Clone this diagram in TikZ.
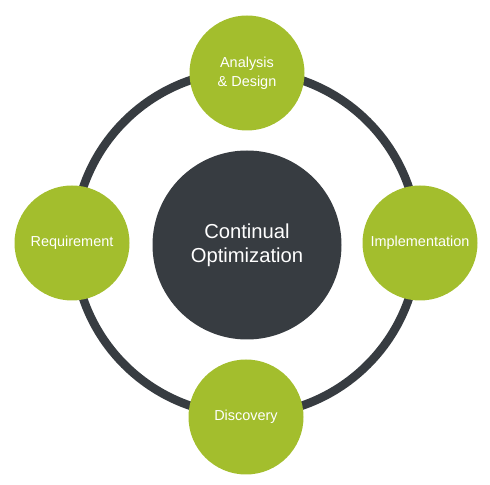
\documentclass[tikz,border=0pt]{standalone}
\usepackage{fontspec}
\setmainfont{Liberation Sans}
\definecolor{leafgreen}{HTML}{A3BE2D}
\definecolor{slate}{HTML}{373C41}
\tikzset{
  phase/.style={circle,fill=leafgreen,draw=none,minimum size=115bp,inner sep=0pt,
    text=white,align=center,font=\fontsize{14.5}{19}\selectfont},
  hub/.style={circle,fill=slate,draw=none,minimum size=189bp,inner sep=0pt,
    text=white,align=center,font=\fontsize{20.3}{24.5}\selectfont},
}
\begin{document}
\begin{tikzpicture}[line join=bevel,]
\useasboundingbox (0bp,0bp) rectangle (490bp,485bp);
%%
\coordinate (ring_c) at (246bp,242bp);
\draw [slate,line width=8.5bp] (ring_c) circle (172bp);
%
\node (node_0) at (247bp,412bp) [phase] {Analysis\\\& Design};
  \node (node_1) at (420bp,242bp) [phase] {Implementation};
  \node (node_2) at (246bp,68bp) [phase] {Discovery};
  \node (node_3) at (72bp,242bp) [phase] {Requirement};
  \node (node_4) at (247bp,240bp) [hub] {Continual\\Optimization};
%
\end{tikzpicture}
\end{document}
